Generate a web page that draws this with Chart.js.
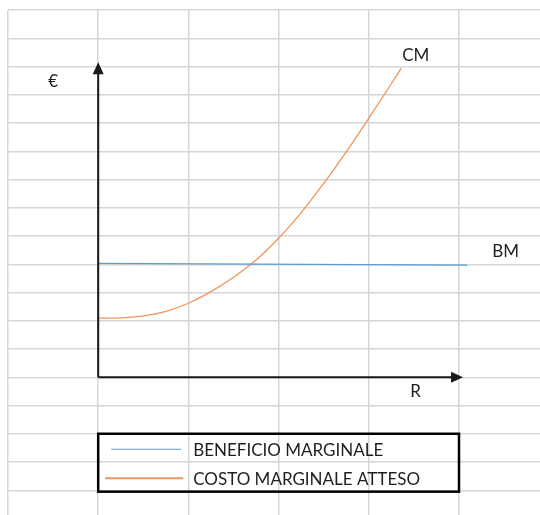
<!DOCTYPE html>
<html>
<head>
<meta charset="utf-8">
<script src="https://cdn.jsdelivr.net/npm/chart.js"></script>
<style>
  html, body { margin: 0; padding: 0; background: #ffffff; }
  #wrap { width: 540px; height: 515px; }
</style>
</head>
<body>
<div id="wrap"><canvas id="myChart" width="540" height="515"></canvas></div>
<script>
// Data, in sheet units: R in columns, € in rows above the R axis
const rValues = [0, 0.25, 0.5, 0.75, 1.0, 1.25, 1.5, 1.75, 2.0, 2.25, 2.5, 2.75, 3.0, 3.25, 3.36];
const costoMarginale = [2.09, 2.10, 2.17, 2.33, 2.62, 3.03, 3.54, 4.15, 4.92, 5.83, 6.86, 7.98, 9.17, 10.39, 10.94];
const bmR = [0, 4.09];
const beneficioMarginale = [4.03, 3.97];
const seriesLabels = ['BENEFICIO MARGINALE', 'COSTO MARGINALE ATTESO'];
const axisLabels = { y: '€', x: 'R', bm: 'BM', cm: 'CM' };

// spreadsheet cells: column width / row height in px
const COL = 90.2, ROW = 28.25;
const colTicks = [-1, 0, 1, 2, 3, 4];
const rowTicks = [];
for (let v = 13; v >= -4; v--) rowTicks.push(v);

const FONT = '17px Lato, "Open Sans", sans-serif';
const TEXT = '#1f1f1f';

function toPoints(xs, ys) {
    return xs.map((x, i) => ({ x: x, y: ys[i] }));
}

// Axes with arrows, free text labels and boxed legend
const sheetPlugin = {
    id: 'sheetPlugin',
    afterDatasetsDraw(chart) {
        const ctx = chart.ctx;
        const xs = chart.scales.x, ys = chart.scales.y;
        const ox = xs.getPixelForValue(0), oy = ys.getPixelForValue(0);
        const topY = ys.getPixelForValue(11.15), rightX = xs.getPixelForValue(4.045);

        ctx.save();
        ctx.strokeStyle = '#1a1a1a';
        ctx.fillStyle = '#1a1a1a';
        ctx.lineWidth = 2;
        ctx.beginPath();
        ctx.moveTo(ox, oy);
        ctx.lineTo(ox, topY + 10);
        ctx.moveTo(ox, oy);
        ctx.lineTo(rightX - 10, oy);
        ctx.stroke();
        // arrow heads
        ctx.beginPath();
        ctx.moveTo(ox, topY);
        ctx.lineTo(ox - 5.5, topY + 12);
        ctx.lineTo(ox + 5.5, topY + 12);
        ctx.closePath();
        ctx.fill();
        ctx.beginPath();
        ctx.moveTo(rightX, oy);
        ctx.lineTo(rightX - 12, oy - 5.5);
        ctx.lineTo(rightX - 12, oy + 5.5);
        ctx.closePath();
        ctx.fill();

        // text labels
        ctx.fillStyle = TEXT;
        ctx.font = FONT;
        ctx.textAlign = 'left';
        ctx.textBaseline = 'alphabetic';
        ctx.fillText(axisLabels.y, ox - 50, oy - 290);
        ctx.fillText(axisLabels.cm, ox + 304, oy - 316);
        ctx.fillText(axisLabels.bm, ox + 394, oy - 120);
        ctx.fillText(axisLabels.x, ox + 312, oy + 20);

        // legend box
        const lx = xs.getPixelForValue(0), rx = xs.getPixelForValue(4);
        const ty = ys.getPixelForValue(-2), by = ys.getPixelForValue(-4.05);
        ctx.strokeStyle = '#000000';
        ctx.lineWidth = 2.5;
        ctx.strokeRect(lx, ty, rx - lx, by - ty);

        const rows = [
            { y: ty + 15.5, base: ty + 22.5, x0: lx + 13, x1: lx + 83, w: 1.2 },
            { y: ty + 44.5, base: ty + 51.5, x0: lx + 7, x1: lx + 85, w: 2 }
        ];
        chart.data.datasets.forEach((ds, i) => {
            const r = rows[i];
            ctx.strokeStyle = ds.borderColor;
            ctx.lineWidth = r.w;
            ctx.beginPath();
            ctx.moveTo(r.x0, r.y);
            ctx.lineTo(r.x1, r.y);
            ctx.stroke();
            ctx.fillStyle = TEXT;
            ctx.fillText(ds.label, lx + 95, r.base);
        });
        ctx.restore();
    }
};

function initChart() {
    const ctx = document.getElementById('myChart').getContext('2d');
    const gridStyle = {
        display: true,
        color: '#d6d6d6',
        lineWidth: 1.5,
        drawTicks: false
    };
    new Chart(ctx, {
        type: 'line',
        data: {
            datasets: [
                {
                    label: seriesLabels[0],
                    data: toPoints(bmR, beneficioMarginale),
                    borderColor: '#5b9bd5',
                    borderWidth: 1.2,
                    pointRadius: 0,
                    fill: false
                },
                {
                    label: seriesLabels[1],
                    data: toPoints(rValues, costoMarginale),
                    borderColor: '#f0945a',
                    borderWidth: 1.3,
                    pointRadius: 0,
                    fill: false,
                    cubicInterpolationMode: 'monotone'
                }
            ]
        },
        options: {
            responsive: false,
            animation: false,
            layout: { padding: { left: 8, top: 10, right: 0, bottom: 0 } },
            plugins: {
                legend: { display: false },
                tooltip: { enabled: false }
            },
            scales: {
                x: {
                    type: 'linear',
                    min: -1,
                    max: -1 + 532 / COL,
                    grid: gridStyle,
                    border: { display: false },
                    ticks: { display: false },
                    afterBuildTicks: (scale) => { scale.ticks = colTicks.map(v => ({ value: v })); }
                },
                y: {
                    type: 'linear',
                    min: 13 - 505 / ROW,
                    max: 13,
                    grid: gridStyle,
                    border: { display: false },
                    ticks: { display: false },
                    afterBuildTicks: (scale) => { scale.ticks = rowTicks.map(v => ({ value: v })); }
                }
            }
        },
        plugins: [sheetPlugin]
    });
}

window.onload = () => {
    initChart();
};
</script>
</body>
</html>
